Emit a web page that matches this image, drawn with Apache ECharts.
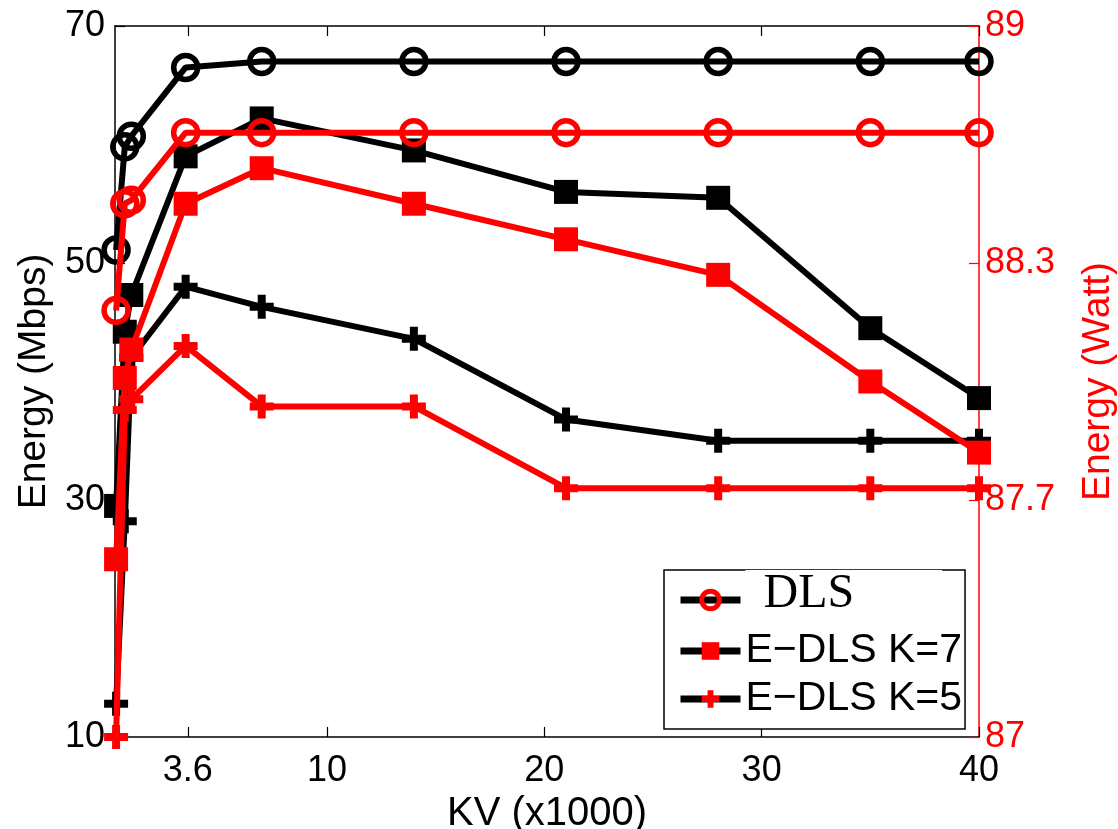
<!DOCTYPE html>
<html>
<head>
<meta charset="utf-8">
<script src="https://cdn.jsdelivr.net/npm/echarts@6/dist/echarts.min.js"></script>
<style>
  html, body { margin: 0; padding: 0; background: #fff; }
  #chart { width: 1118px; height: 829px; }
</style>
</head>
<body>
<div id="chart"></div>
<script>
// KV (x1000) sample points
var kv = [0.3, 0.7, 1.0, 3.5, 7, 14, 21, 28, 35, 40];

// left axis, Energy (Mbps) - black
var dlsMbps = [51.1, 59.8, 60.7, 66.5, 67.0, 67.0, 67.0, 67.0, 67.0, 67.0];
var k7Mbps  = [29.5, 44.2, 47.3, 59.0, 62.2, 59.5, 56.0, 55.5, 44.5, 38.6];
var k5Mbps  = [12.8, 28.2, 42.0, 48.0, 46.3, 43.6, 36.8, 35.0, 35.0, 35.0];

// right axis, Energy (Watt) - red
var dlsWatt = [88.20, 88.50, 88.51, 88.70, 88.70, 88.70, 88.70, 88.70, 88.70, 88.70];
var k7Watt  = [87.50, 88.01, 88.09, 88.50, 88.60, 88.50, 88.40, 88.30, 88.00, 87.80];
var k5Watt  = [87.00, 87.92, 87.95, 88.10, 87.93, 87.93, 87.70, 87.70, 87.70, 87.70];

// tick labels
var kvTicks = [3.6, 10, 20, 30, 40];
var wattTicks = [87, 87 + 2 / 3, 88 + 1 / 3, 89];
var wattTickLabels = ['87', '87.7', '88.3', '89'];

var names = ['DLS', 'E\u2212DLS K=7', 'E\u2212DLS K=5'];

var PLUS = 'path://M4,0h4v4h4v4h-4v4h-4v-4h-4v-4h4z';
var FONT = 'Liberation Sans';

function pairs(ys) {
  return kv.map(function (x, i) { return [x, ys[i]]; });
}

function makeSeries(name, ys, color, marker, yIdx) {
  var isCircle = marker === 'circle';
  return {
    name: name,
    type: 'line',
    yAxisIndex: yIdx,
    data: pairs(ys),
    symbol: isCircle ? 'circle' : (marker === 'plus' ? PLUS : 'rect'),
    symbolSize: 24,
    showAllSymbol: true,
    z: yIdx === 1 ? 4 : 3,
    lineStyle: { color: color, width: 6 },
    itemStyle: isCircle
      ? { color: 'rgba(0,0,0,0)', borderColor: color, borderWidth: 5.5 }
      : { color: color, borderWidth: 0 }
  };
}

var myChart = echarts.init(document.getElementById('chart'));

var option = {
  animation: false,
  backgroundColor: '#fff',
  grid: { left: 115, right: 139, top: 26, bottom: 92, outerBoundsMode: 'none' },
  xAxis: [{
    type: 'value',
    min: 0.25,
    max: 40,
    name: 'KV (x1000)',
    nameLocation: 'middle',
    nameGap: 46,
    nameTextStyle: { fontFamily: FONT, fontSize: 40, color: '#000' },
    axisLine: { lineStyle: { color: '#000', width: 1.5 } },
    axisTick: { inside: true, length: 10, customValues: kvTicks, lineStyle: { color: '#000', width: 1.2 } },
    axisLabel: { customValues: kvTicks, margin: 16, fontFamily: FONT, fontSize: 36, color: '#000' },
    splitLine: { show: false }
  }, {
    type: 'value',
    position: 'top',
    min: 0.25,
    max: 40,
    axisLine: { onZero: false, lineStyle: { color: '#000', width: 1.5 } },
    axisTick: { inside: true, length: 10, customValues: kvTicks, lineStyle: { color: '#000', width: 1.2 } },
    axisLabel: { show: false },
    splitLine: { show: false }
  }],
  yAxis: [{
    type: 'value',
    min: 10,
    max: 70,
    interval: 20,
    name: 'Energy (Mbps)',
    nameLocation: 'middle',
    nameGap: 60,
    nameTextStyle: { fontFamily: FONT, fontSize: 39, color: '#000' },
    axisLine: { show: true, lineStyle: { color: '#000', width: 1.5 } },
    axisTick: { inside: true, length: 10, lineStyle: { color: '#000', width: 1.2 } },
    axisLabel: { margin: 10, fontFamily: FONT, fontSize: 36, color: '#000' },
    splitLine: { show: false }
  }, {
    type: 'value',
    position: 'right',
    min: 87,
    max: 89,
    name: 'Energy (Watt)',
    nameLocation: 'middle',
    nameRotate: 90,
    nameGap: 100,
    nameTextStyle: { fontFamily: FONT, fontSize: 39, color: '#f00' },
    axisLine: { show: true, lineStyle: { color: '#f00', width: 1.5 } },
    axisTick: { inside: true, length: 10, customValues: wattTicks, lineStyle: { color: '#f00', width: 1.2 } },
    axisLabel: {
      customValues: wattTicks,
      margin: 6,
      fontFamily: FONT,
      fontSize: 36,
      color: '#f00',
      formatter: function (v) {
        var i = wattTicks.findIndex(function (t) { return Math.abs(t - v) < 1e-6; });
        return i >= 0 ? wattTickLabels[i] : '';
      }
    },
    splitLine: { show: false }
  }],
  legend: {
    orient: 'vertical',
    left: 664,
    top: 570,
    padding: [0, 3, 3, 13],
    itemGap: -6,
    itemWidth: 60,
    itemHeight: 22,
    backgroundColor: '#fff',
    borderColor: '#000',
    borderWidth: 1.5,
    borderRadius: 0,
    data: [
      { name: names[0], itemStyle: { color: 'rgba(0,0,0,0)', borderColor: '#f00', borderWidth: 5 }, lineStyle: { color: '#000', width: 7 } },
      { name: names[1], itemStyle: { color: '#f00' }, lineStyle: { color: '#000', width: 7 } },
      { name: names[2], itemStyle: { color: '#f00' }, lineStyle: { color: '#000', width: 7 } }
    ],
    formatter: function (name) {
      return name === 'DLS' ? '{serif|' + name + '}' : '{sans|' + name + '}';
    },
    textStyle: {
      fontFamily: FONT,
      fontSize: 41,
      lineHeight: 54,
      color: '#000',
      rich: {
        serif: {
          fontFamily: 'Liberation Serif',
          fontSize: 48,
          lineHeight: 48,
          color: '#000',
          backgroundColor: '#fff',
          padding: [0, 88, 12, 18]
        },
        sans: {
          fontFamily: FONT,
          fontSize: 41,
          lineHeight: 54,
          color: '#000'
        }
      }
    }
  },
  series: [
    makeSeries(names[0], dlsMbps, '#000', 'circle', 0),
    makeSeries(names[1], k7Mbps, '#000', 'rect', 0),
    makeSeries(names[2], k5Mbps, '#000', 'plus', 0),
    makeSeries('DLS (Watt)', dlsWatt, '#f00', 'circle', 1),
    makeSeries('K7 (Watt)', k7Watt, '#f00', 'rect', 1),
    makeSeries('K5 (Watt)', k5Watt, '#f00', 'plus', 1)
  ]
};

myChart.setOption(option);
</script>
</body>
</html>
